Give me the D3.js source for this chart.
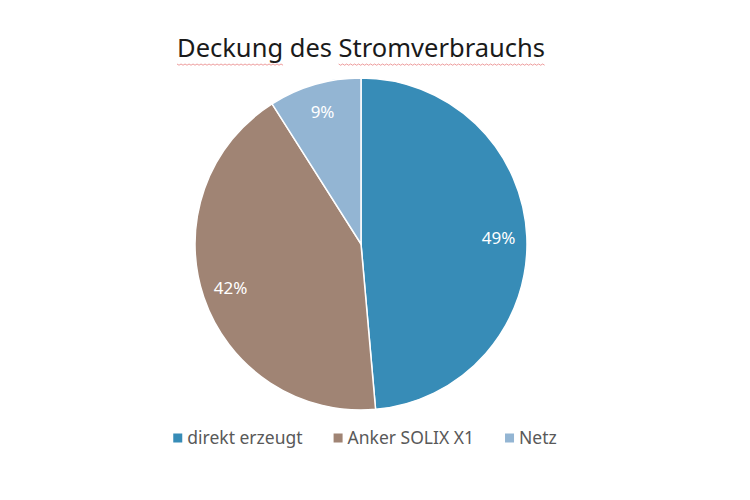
<!DOCTYPE html>
<html>
<head>
<meta charset="utf-8">
<script src="https://cdn.jsdelivr.net/npm/d3@7/dist/d3.min.js"></script>
<style>
  body { margin: 0; background: #fff; }
  svg { display: block; font-family: "Noto Sans", "Open Sans", sans-serif; }
</style>
</head>
<body>
<div id="chart"></div>
<script>
const categories = ['direkt erzeugt', 'Anker SOLIX X1', 'Netz']
const shares = [48.6, 42.4, 9.0]
const labels = ['49%', '42%', '9%']
const colors = ['#378cb7', '#a08474', '#93b5d3']
const titleText = 'Deckung des Stromverbrauchs'

const width = 750, height = 500
const cx = 361, cy = 244, radius = 166

const svg = d3.select('#chart').append('svg')
    .attr('width', width).attr('height', height)

// titel
const title = svg.append('text')
    .attr('x', cx).attr('y', 57)
    .attr('text-anchor', 'middle')
    .style('font-size', '25.5px')
    .style('fill', '#1a1a1a')
    .text(titleText)

// rote Wellenlinie (Rechtschreibprüfung) unter "Deckung" und "Stromverbrauchs"
const tb = title.node().getBBox()
const tnode = title.node()
const words = [[0, 7], [12, 15]]
words.forEach(([start, len]) => {
    const x1 = tb.x + (start ? tnode.getSubStringLength(0, start) : 0)
    const x2 = x1 + tnode.getSubStringLength(start, len)
    let wave = ''
    let k = 0
    for (let x = x1; x <= x2; x += 2, k++) {
        wave += (wave ? 'L' : 'M') + x + ',' + (64 + (k % 2 ? 1.2 : 0))
    }
    svg.append('path')
        .attr('d', wave)
        .attr('fill', 'none')
        .attr('stroke', '#e05a5a')
        .attr('stroke-width', 0.8)
        .attr('opacity', 0.75)
})

const data = categories.map((c, i) => ({ name: c, value: shares[i], label: labels[i], color: colors[i] }))

const pie = d3.pie().sort(null).value(d => d.value)
const arc = d3.arc().innerRadius(0).outerRadius(radius)
const labelArc = d3.arc().innerRadius(radius * 0.83).outerRadius(radius * 0.83)

const g = svg.append('g').attr('transform', `translate(${cx},${cy})`)

const arcs = pie(data)

g.selectAll('path.slice')
    .data(arcs)
    .join('path')
    .attr('class', 'slice')
    .attr('d', arc)
    .attr('fill', d => d.data.color)
    .attr('stroke', '#fff')
    .attr('stroke-width', 1.5)

g.selectAll('text.lbl')
    .data(arcs)
    .join('text')
    .attr('class', 'lbl')
    .attr('transform', d => `translate(${labelArc.centroid(d)})`)
    .attr('text-anchor', 'middle')
    .attr('dy', '0.35em')
    .style('font-size', '17px')
    .style('fill', '#fff')
    .text(d => d.data.label)

// legende
const legend = svg.append('g').attr('transform', 'translate(0,438)')
const items = legend.selectAll('g')
    .data(data)
    .join('g')

items.append('rect')
    .attr('width', 9).attr('height', 9)
    .attr('y', -4.5)
    .attr('fill', d => d.color)

items.append('text')
    .attr('x', 14)
    .attr('dy', '0.35em')
    .style('font-size', '17.5px')
    .style('fill', '#595959')
    .text(d => d.name)

// positionen nach Textbreite
let widths = []
items.each(function () { widths.push(this.getBBox().width) })
const gap = 31
const total = d3.sum(widths) + gap * (widths.length - 1)
let x0 = 365 - total / 2
items.attr('transform', (d, i) => {
    const t = `translate(${x0},0)`
    x0 += widths[i] + gap
    return t
})
</script>
</body>
</html>
